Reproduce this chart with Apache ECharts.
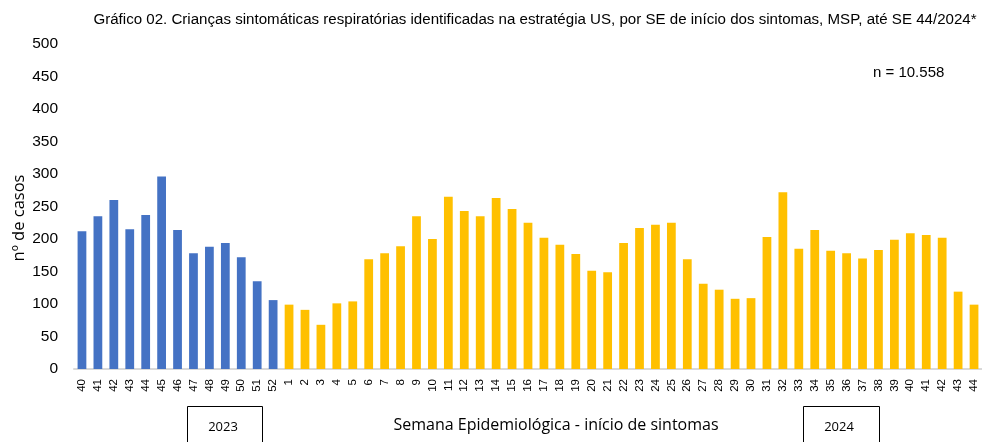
<!DOCTYPE html>
<html><head><meta charset="utf-8">
<script src="https://cdn.jsdelivr.net/npm/echarts@6/dist/echarts.min.js"></script>
<style>html,body{margin:0;padding:0;background:#fff}#c{width:982px;height:442px}</style>
</head><body><div id="c"></div>
<script>
const weeks2023 = ['40','41','42','43','44','45','46','47','48','49','50','51','52'];
const values2023 = [212,235,260,215,237,296,214,178,188,194,172,135,106];
const weeks2024 = ['1','2','3','4','5','6','7','8','9','10','11','12','13','14','15','16','17','18','19','20','21','22','23','24','25','26','27','28','29','30','31','32','33','34','35','36','37','38','39','40','41','42','43','44'];
const values2024 = [99,91,68,101,104,169,178,189,235,200,265,243,235,263,246,225,202,191,177,151,149,194,217,222,225,169,131,122,108,109,203,272,185,214,182,178,170,183,199,209,206,202,119,99];
const yTicks = [0,50,100,150,200,250,300,350,400,450,500];

const categories = weeks2023.concat(weeks2024);
const values = values2023.concat(values2024);
const n2023 = values2023.length;

const chart = echarts.init(document.getElementById('c'), null, {renderer:'canvas'});
chart.setOption({
  animation:false,
  title:{
    text:'Gráfico 02. Crianças sintomáticas respiratórias identificadas na estratégia US, por SE de início dos sintomas, MSP, até SE 44/2024*',
    left:530, top:7, textAlign:'center',
    textStyle:{fontFamily:'Liberation Sans', fontSize:15.1, fontWeight:'normal', color:'#000'}
  },
  grid:{left:74, right:-3, top:44, bottom:73},
  xAxis:{
    type:'category', data:categories,
    axisLine:{lineStyle:{color:'#d9d9d9', width:2}},
    axisTick:{show:false},
    axisLabel:{interval:0, rotate:90, color:'#000', fontFamily:'Liberation Sans', fontSize:11.5, margin:10}
  },
  yAxis:{
    type:'value', min:yTicks[0], max:yTicks[yTicks.length-1], interval:50,
    splitLine:{show:false}, axisLine:{show:false}, axisTick:{show:false},
    axisLabel:{color:'#000', fontFamily:'Liberation Sans', fontSize:15.5, margin:16}
  },
  series:[{
    type:'bar', data:values, barCategoryGap:'45%',
    itemStyle:{color:(p)=> p.dataIndex < n2023 ? '#4472C4' : '#FFC000'}
  }],
  graphic:[
    {type:'text', x:19, y:218, rotation:Math.PI/2, style:{text:'nº de casos', font:'16.5px "Open Sans"', fill:'#000', align:'center', verticalAlign:'middle'}},
    {type:'text', x:873, y:73, style:{text:'n = 10.558', font:'15px "Liberation Sans"', fill:'#000', verticalAlign:'middle'}},
    {type:'text', x:556, y:425, style:{text:'Semana Epidemiológica - início de sintomas', font:'16px "Open Sans"', fill:'#000', align:'center', verticalAlign:'middle'}},
    {type:'rect', shape:{x:187.5, y:406.5, width:75, height:40}, style:{fill:'#fff', stroke:'#000', lineWidth:1}},
    {type:'text', x:223, y:427, style:{text:'2023', font:'13px "Open Sans"', fill:'#000', align:'center', verticalAlign:'middle'}},
    {type:'rect', shape:{x:803.5, y:406.5, width:76, height:40}, style:{fill:'#fff', stroke:'#000', lineWidth:1}},
    {type:'text', x:839, y:427, style:{text:'2024', font:'13px "Open Sans"', fill:'#000', align:'center', verticalAlign:'middle'}}
  ]
});
</script></body></html>
